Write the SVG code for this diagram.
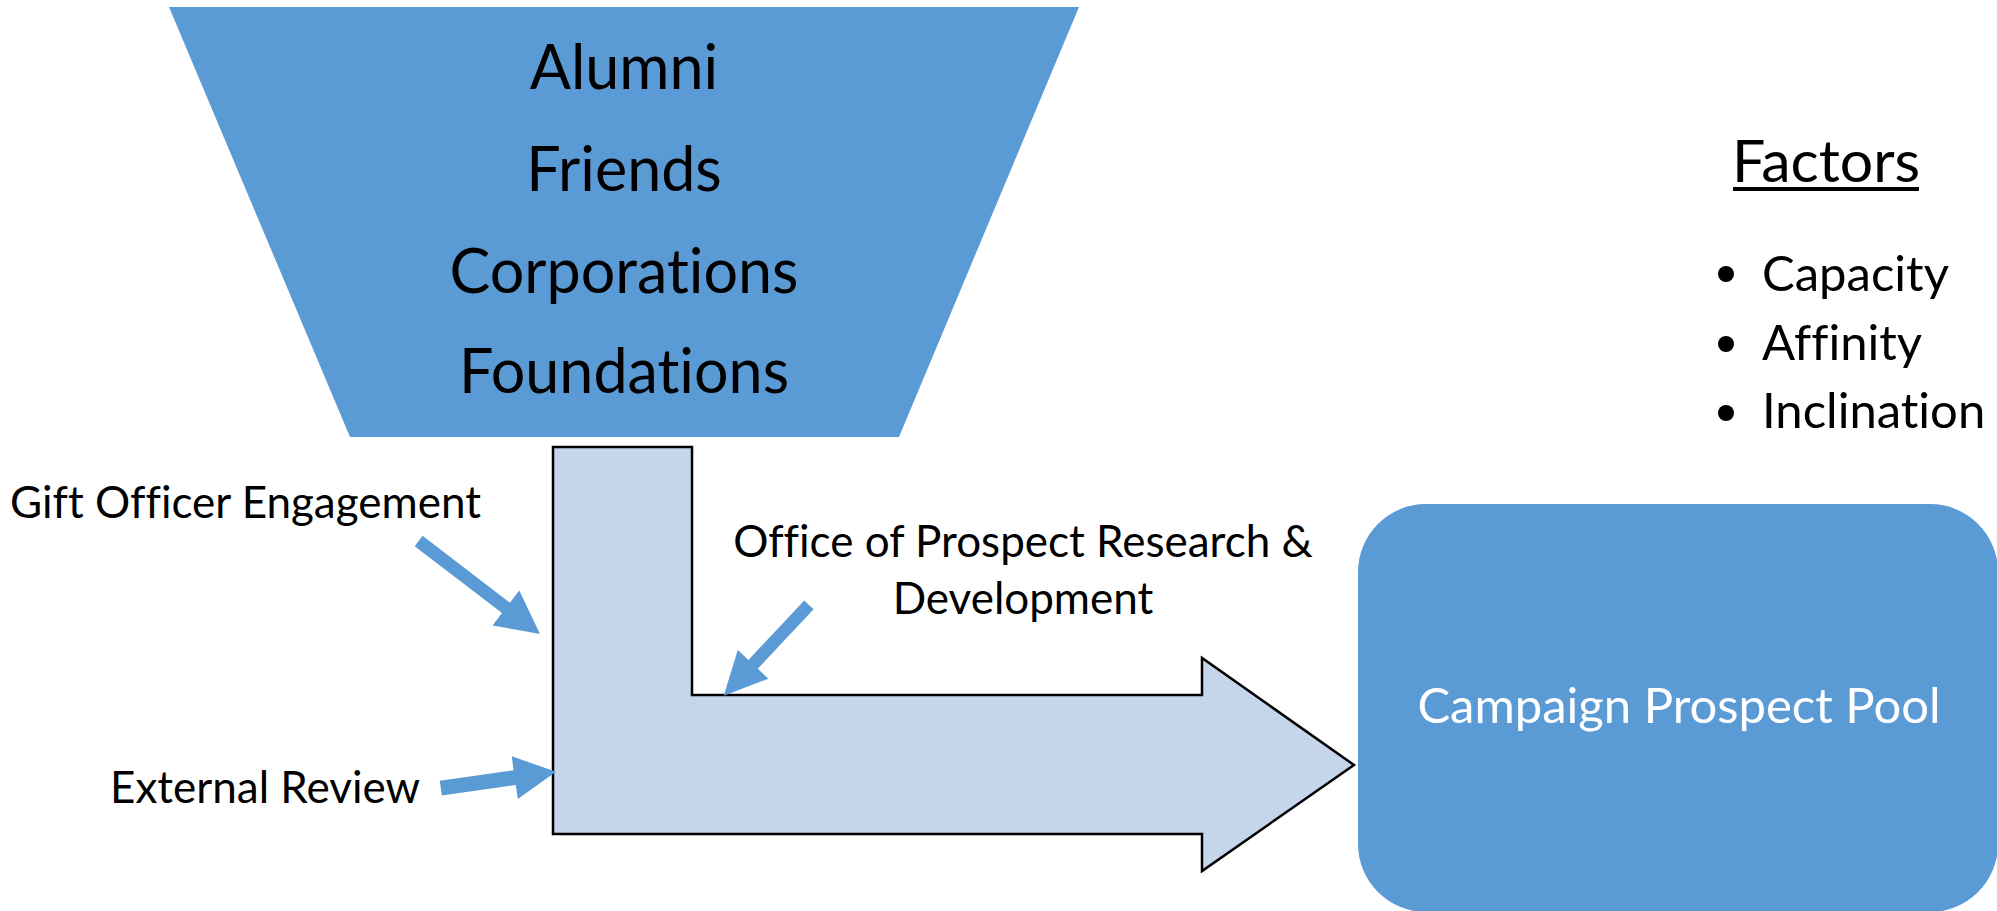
<svg xmlns="http://www.w3.org/2000/svg" width="1997" height="911" viewBox="0 0 1997 911">
<style>
.t{font-family:Lato,"Liberation Sans",sans-serif;fill:#000;font-variant-ligatures:none}
.w{fill:#fff}
.blue{fill:#5B9BD5}
.c{text-anchor:middle}
</style>
<rect x="0" y="0" width="1997" height="911" fill="#fff"/>
<g id="funnel">
<polygon class="blue" points="169,7 1079,7 899,437 350,437"/>
<text class="t c" x="624" y="89" font-size="61">Alumni</text>
<text class="t c" x="624" y="191" font-size="61">Friends</text>
<text class="t c" x="624" y="293" font-size="61">Corporations</text>
<text class="t c" x="624" y="393" font-size="61">Foundations</text>
</g>
<g id="flow-arrow">
<path d="M553,447 L692,447 L692,695 L1202,695 L1202,658 L1354,765 L1202,871 L1202,834 L553,834 Z" fill="#C5D5EA" stroke="#000" stroke-width="2.5"/>
</g>
<g id="pool">
<rect class="blue" x="1358" y="504" width="640" height="408" rx="68" ry="68"/>
<text class="t w c" x="1679" y="723" font-size="49">Campaign Prospect Pool</text>
</g>
<g id="factors">
<text class="t c" x="1826" y="182" font-size="59">Factors</text>
<line x1="1733" y1="189" x2="1919" y2="189" stroke="#000" stroke-width="4"/>
<circle cx="1726" cy="274" r="8"/>
<circle cx="1726" cy="344" r="8"/>
<circle cx="1726" cy="413" r="8"/>
<text class="t" x="1762" y="291" font-size="49">Capacity</text>
<text class="t" x="1762" y="360" font-size="49">Affinity</text>
<text class="t" x="1762" y="428" font-size="49">Inclination</text>
</g>
<g id="label-gift">
<text class="t" x="10" y="518" font-size="44">Gift Officer Engagement</text>
</g>
<g id="label-external">
<text class="t" x="110" y="803" font-size="44">External Review</text>
</g>
<g id="label-office">
<text class="t c" x="1023" y="557" font-size="44">Office of Prospect Research &amp;</text>
<text class="t c" x="1023" y="614" font-size="44">Development</text>
</g>
<g id="connectors">
<polygon class="blue" points="422.6,535.8 509.9,602.7 519.3,590.4 540,634 492.5,625.4 502,613.1 414.7,546.2"/>
<polygon class="blue" points="439.7,780.8 513.6,770.2 511.7,756.3 556,771.7 517.8,798.9 515.8,785 441.9,795.6"/>
<polygon class="blue" points="804.2,600.4 748.4,659.9 737.8,649.9 723.7,695.7 768.4,678.7 757.8,668.7 813.6,609.2"/>
</g>
</svg>
